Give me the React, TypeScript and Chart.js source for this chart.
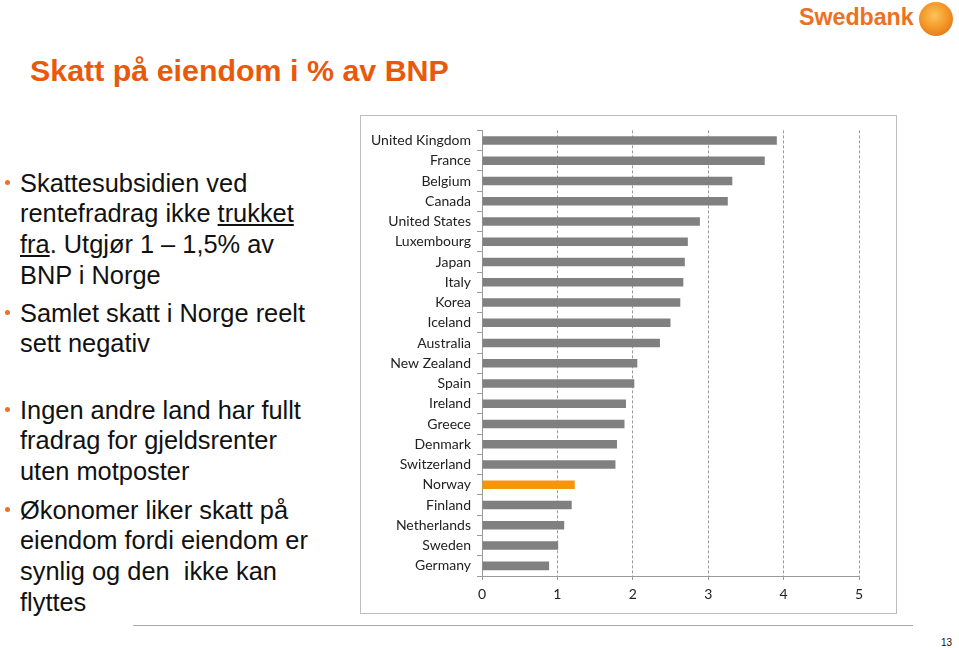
import React, { useEffect, useRef } from "react";
import { Chart, registerables } from "chart.js";

Chart.register(...registerables);

const categories = [
  "United Kingdom", "France", "Belgium", "Canada", "United States", "Luxembourg",
  "Japan", "Italy", "Korea", "Iceland", "Australia", "New Zealand", "Spain",
  "Ireland", "Greece", "Denmark", "Switzerland", "Norway", "Finland",
  "Netherlands", "Sweden", "Germany",
];
const values = [
  3.91, 3.75, 3.32, 3.26, 2.89, 2.73, 2.69, 2.67, 2.63, 2.5, 2.36, 2.06, 2.02,
  1.91, 1.89, 1.79, 1.77, 1.23, 1.19, 1.09, 1.01, 0.89,
];
const xTicks = [0, 1, 2, 3, 4, 5];
const highlighted = "Norway";

const ORANGE = "#E8590C";
const BAR_GRAY = "#808080";
const BAR_ORANGE = "#F7960C";

function BarChart() {
  const ref = useRef<HTMLCanvasElement | null>(null);
  useEffect(() => {
    if (!ref.current) return;
    const font = { family: "Lato, 'Liberation Sans', sans-serif", size: 14 };
    const chart = new Chart(ref.current, {
      type: "bar",
      data: {
        labels: categories,
        datasets: [
          {
            data: values,
            backgroundColor: categories.map((c) => (c === highlighted ? BAR_ORANGE : BAR_GRAY)),
            barPercentage: 0.42,
            categoryPercentage: 1,
          },
        ],
      },
      options: {
        indexAxis: "y",
        responsive: false,
        animation: false,
        layout: { padding: { top: 14, right: 37, left: 0, bottom: 0 } },
        plugins: { legend: { display: false }, tooltip: { enabled: false } },
        scales: {
          x: {
            min: xTicks[0],
            max: xTicks[xTicks.length - 1],
            afterBuildTicks: (scale: any) => {
              scale.ticks = xTicks.map((v) => ({ value: v }));
            },
            afterFit: (scale: any) => {
              scale.height = 37;
            },
            ticks: { color: "#222", font, padding: 6 },
            grid: {
              color: (ctx: any) => (ctx.tick && ctx.tick.value === 0 ? "rgba(0,0,0,0)" : "#9a9a9a"),
              tickColor: "#9a9a9a",
              tickLength: 4,
              tickBorderDash: [],
            },
            border: { display: true, color: "#9a9a9a", dash: [3, 2] },
          },
          y: {
            afterFit: (scale: any) => {
              scale.width = 121;
            },
            ticks: { color: "#222", font, padding: 6 },
            grid: {
              drawOnChartArea: false,
              offset: true,
              color: "#9a9a9a",
              tickLength: 5,
            },
            border: { display: true, color: "#9a9a9a" },
          },
        },
      },
    });
    return () => chart.destroy();
  }, []);
  return <canvas ref={ref} width={535} height={497} style={{ position: "absolute", left: 361, top: 116 }} />;
}

const LH = 30.7;
const textStyle: React.CSSProperties = {
  position: "absolute",
  left: 20,
  fontFamily: "'Liberation Sans', Arial, sans-serif",
  fontSize: 25.4,
  lineHeight: `${LH}px`,
  color: "#111",
  whiteSpace: "nowrap",
};

function Bullet({ top, children }: { top: number; children: React.ReactNode }) {
  return (
    <>
      <div
        style={{
          position: "absolute",
          left: 5,
          top: top + LH / 2 - 2.5,
          width: 5,
          height: 5,
          borderRadius: "50%",
          background: "#EE7023",
        }}
      />
      <div style={{ ...textStyle, top }}>{children}</div>
    </>
  );
}

export default function App() {
  return (
    <div
      style={{
        position: "absolute",
        left: 0,
        top: 0,
        width: 959,
        height: 648,
        background: "#fff",
        overflow: "hidden",
      }}
    >
      {/* Logo */}
      <div
        style={{
          position: "absolute",
          left: 799,
          top: 3,
          fontFamily: "'Liberation Sans', Arial, sans-serif",
          fontWeight: "bold",
          fontSize: 23.2,
          color: "#EE7023",
          lineHeight: "28px",
        }}
      >
        Swedbank
      </div>
      <div
        style={{
          position: "absolute",
          left: 919,
          top: 2,
          width: 34,
          height: 34,
          borderRadius: "50%",
          background: "radial-gradient(circle at 45% 40%, #FDC35A 0%, #F39A2A 45%, #E0600E 100%)",
        }}
      />
      {/* Title */}
      <div
        style={{
          position: "absolute",
          left: 30,
          top: 51,
          fontFamily: "'Liberation Sans', Arial, sans-serif",
          fontWeight: "bold",
          fontSize: 30.4,
          lineHeight: "38px",
          color: ORANGE,
          whiteSpace: "nowrap",
        }}
      >
        Skatt på eiendom i % av BNP
      </div>

      <Bullet top={167.6}>
        Skattesubsidien ved
        <br />
        rentefradrag ikke <u>trukket</u>
        <br />
        <u>fra</u>. Utgjør 1 – 1,5% av
        <br />
        BNP i Norge
      </Bullet>
      <Bullet top={297.6}>
        Samlet skatt i Norge reelt
        <br />
        sett negativ
      </Bullet>
      <Bullet top={394.6}>
        Ingen andre land har fullt
        <br />
        fradrag for gjeldsrenter
        <br />
        uten motposter
      </Bullet>
      <Bullet top={494.6}>
        Økonomer liker skatt på
        <br />
        eiendom fordi eiendom er
        <br />
        synlig og den&nbsp; ikke kan
        <br />
        flyttes
      </Bullet>

      {/* Chart frame */}
      <div
        style={{
          position: "absolute",
          left: 360,
          top: 115,
          width: 535,
          height: 497,
          border: "1px solid #bdbdbd",
        }}
      />
      <BarChart />

      {/* Footer line */}
      <div style={{ position: "absolute", left: 133, top: 625, width: 780, height: 1, background: "#aaa" }} />
      <div
        style={{
          position: "absolute",
          left: 941,
          top: 637,
          fontFamily: "'Liberation Sans', Arial, sans-serif",
          fontSize: 10,
          color: "#111",
        }}
      >
        13
      </div>
    </div>
  );
}
